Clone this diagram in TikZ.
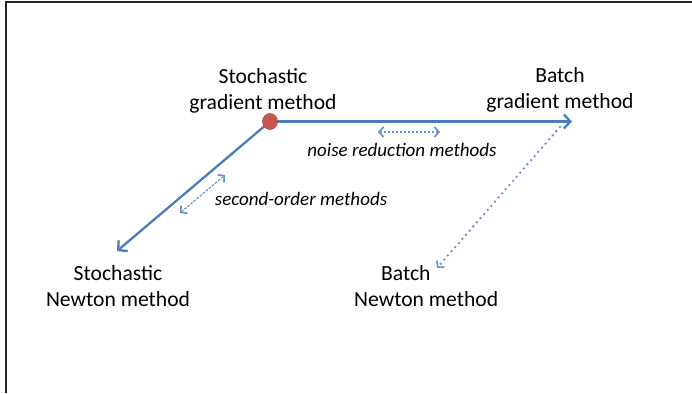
\documentclass[tikz,border=0pt]{standalone}
\usepackage{fontspec}
\setmainfont{Carlito}
\usetikzlibrary{arrows.meta,shapes.geometric}
\definecolor{lineblue}{RGB}{74,126,187}
\definecolor{dashblue}{RGB}{100,145,205}
\definecolor{dotred}{RGB}{200,85,80}
\begin{document}
\begin{tikzpicture}[x=1pt,y=-1pt,
  lbl/.style={align=center, font=\fontsize{21.6}{26}\selectfont, inner sep=0pt},
  ital/.style={font=\fontsize{19}{23}\selectfont\itshape, inner sep=0pt},
  mainarrow/.style={draw=lineblue, line width=2.3pt, -{Straight Barb[length=6.5pt,width=14pt]}},
  dasharrow/.style={draw=dashblue, line width=1.2pt, dash pattern=on 2.5pt off 1.5pt,
     {Straight Barb[length=4.5pt,width=10pt,line width=1.6pt]}-{Straight Barb[length=4.5pt,width=10pt,line width=1.6pt]}},
  dotarrow/.style={draw=dashblue, line width=2.6pt, line cap=round, dash pattern=on 0pt off 5.5pt,
     -{Straight Barb[length=4.5pt,width=10pt,line width=1.6pt]}},
  reddot/.style={ellipse, fill=dotred, draw=dotred!85!black, line width=0.6pt, minimum width=15pt, minimum height=16pt, inner sep=0pt}]
\useasboundingbox (0,0) rectangle (692,393);
\draw[line width=1.6pt, black!85] (6,393) -- (6,2) -- (692,2);
% text nodes
\node[lbl] (sg) at (263,90.5) {Stochastic\\gradient method};
\node[lbl] (bg) at (560,90) {Batch\\gradient method};
\node[lbl] (sn) at (118,286.5) {Stochastic\\Newton method};
\node[lbl, align=left, anchor=west] (bn) at (354,286) {\hspace*{27pt}Batch\\Newton method};
\node[ital] (nr) at (402,150) {noise reduction methods};
\node[ital] (so) at (301,199) {second-order methods};
% connectors
\coordinate (origin) at (270,121.5);
\coordinate (snTip) at (117,251);
\coordinate (bgTip) at (572,121.5);
\coordinate (dotStart) at (560,127);
\coordinate (bnTip) at (437,268);
\coordinate (soA) at (180,213);
\coordinate (soB) at (225,175);
\coordinate (nrA) at (378,132);
\coordinate (nrB) at (440,132);
\draw[mainarrow] (origin) -- (snTip);
\draw[mainarrow] (origin) -- (bgTip);
\draw[dasharrow] (soA) -- (soB);
\draw[dasharrow] (nrA) -- (nrB);
\draw[dotarrow] (dotStart) -- (bnTip);
\node[reddot] (sgdot) at (origin) {};
\end{tikzpicture}
\end{document}
